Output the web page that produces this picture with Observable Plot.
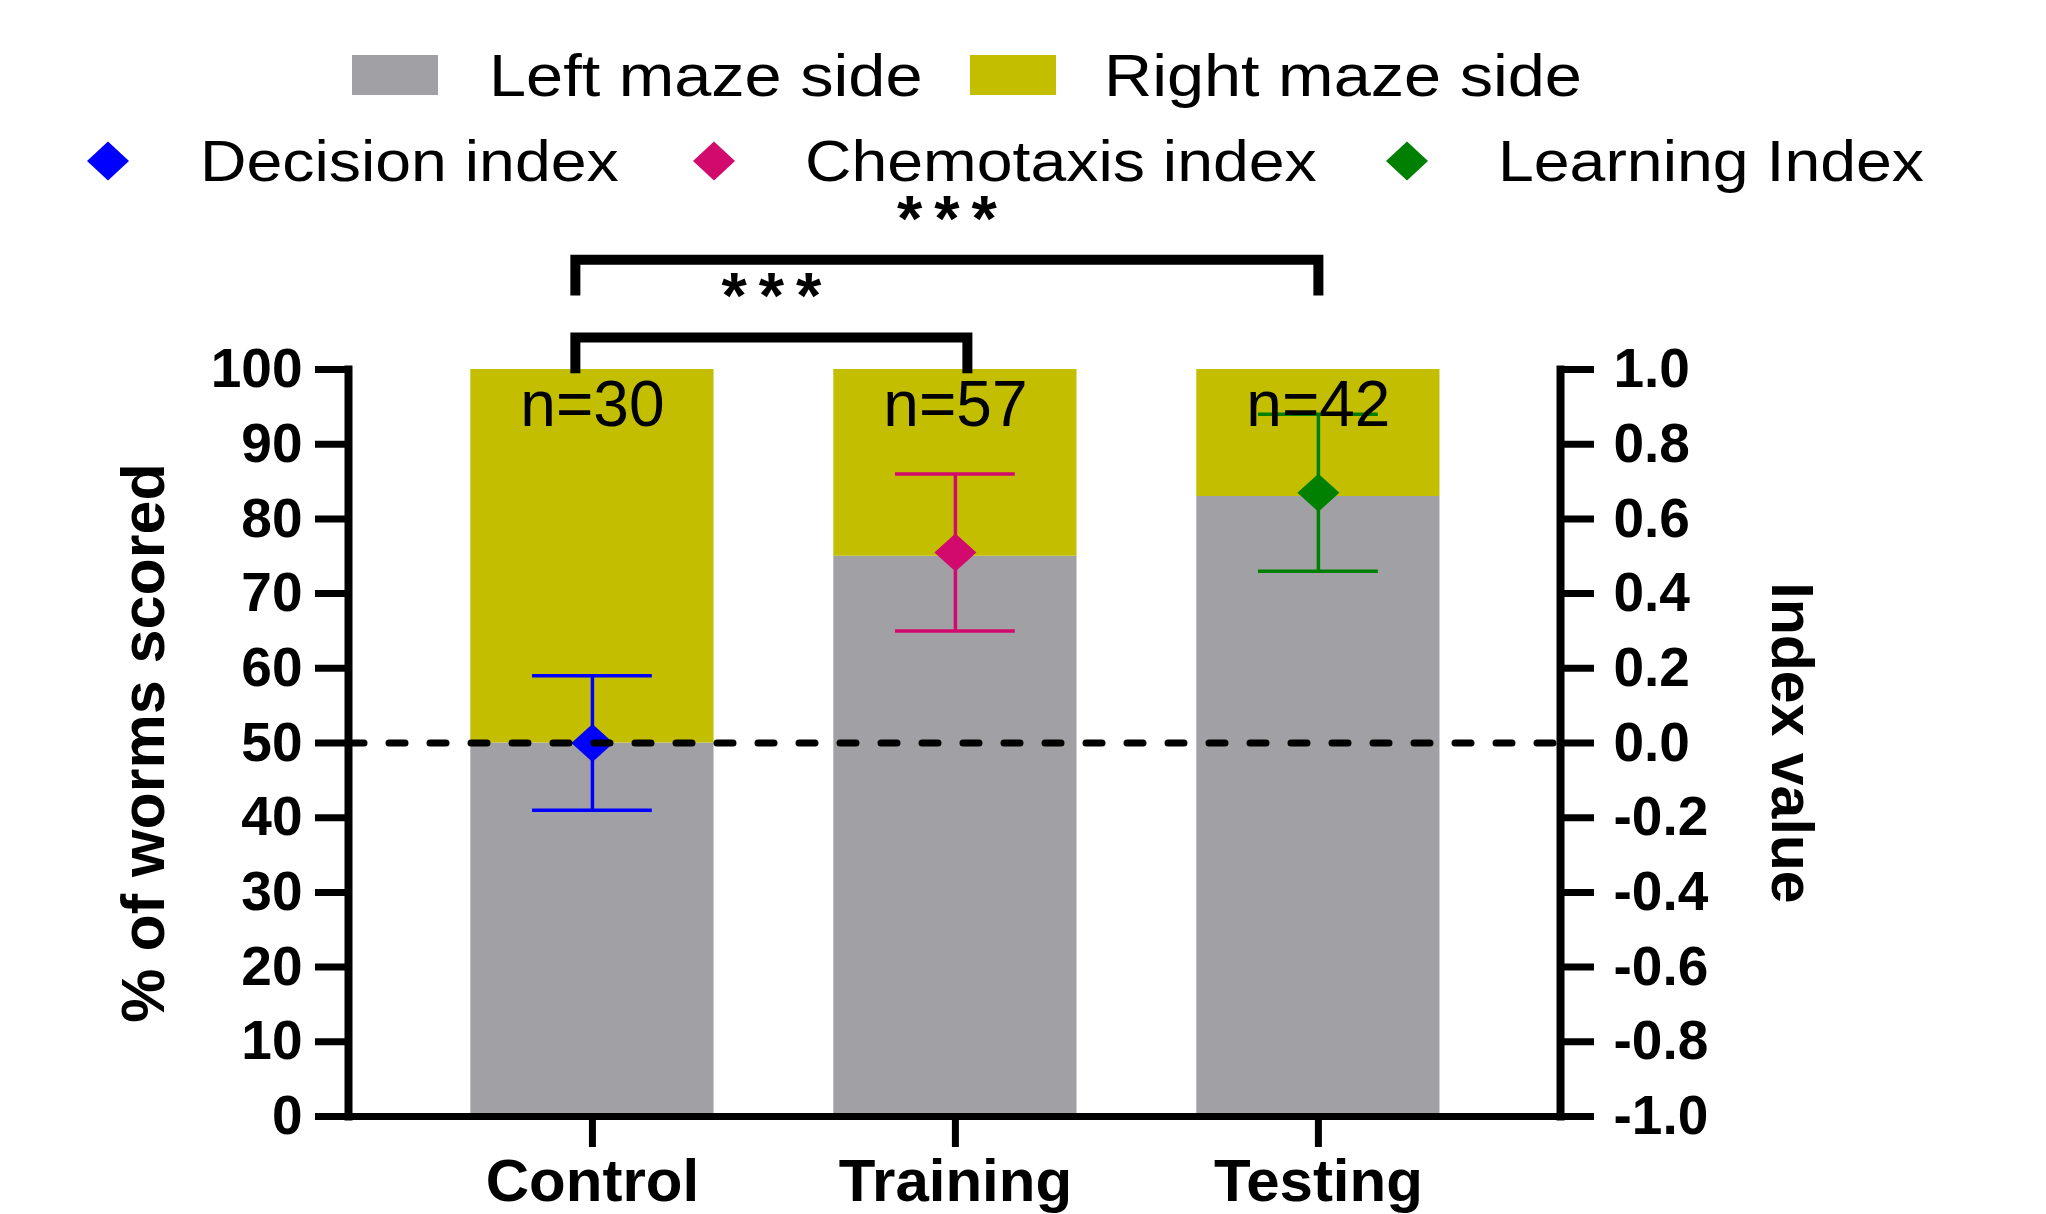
<!DOCTYPE html>
<html>
<head>
<meta charset="utf-8">
<script src="https://cdn.jsdelivr.net/npm/d3@7"></script>
<script src="https://cdn.jsdelivr.net/npm/@observablehq/plot@0.6"></script>
<style>
  html, body { margin: 0; padding: 0; background: #fff; overflow: hidden; }
  #chart { position: relative; width: 2046px; height: 1214px; }
  #chart svg { display: block; }
  #legend { position: absolute; left: 0; top: 0; overflow: visible; pointer-events: none; }
</style>
</head>
<body>
<div id="chart"></div>
<script>
// ---------------- data ----------------
const groups = ["Control", "Training", "Testing"];
const sideNames = ["Left maze side", "Right maze side"];
const leftSide = [50, 75, 83];          // % of worms, left maze side
const rightSide = [50, 25, 17];         // % of worms, right maze side
const indexNames = ["Decision index", "Chemotaxis index", "Learning Index"];
const indexValues = [0.0, 0.51, 0.67];  // index value (right axis)
const indexErrors = [0.18, 0.21, 0.21]; // error bar half-length
const nCounts = [30, 57, 42];
const comparisons = [
  {from: "Control", to: "Training", label: "***"},
  {from: "Control", to: "Testing", label: "***"}
];
const leftTicks = [0, 10, 20, 30, 40, 50, 60, 70, 80, 90, 100];
const rightTickLabels = ["-1.0", "-0.8", "-0.6", "-0.4", "-0.2", "0.0", "0.2", "0.4", "0.6", "0.8", "1.0"];

// ---------------- styles ----------------
const sideColors = ["#a1a0a5", "#c3bf00"];
const indexColors = ["#0000ff", "#d20a6e", "#008000"];
const font = "'Liberation Sans', Arial, Helvetica, sans-serif";
const W = 2046, H = 1214;

// ---------------- derived tables ----------------
const barData = groups.flatMap((g, i) => [
  {i, side: sideNames[0], y1: 0, y2: leftSide[i]},
  {i, side: sideNames[1], y1: leftSide[i], y2: leftSide[i] + rightSide[i]}
]);
const idxData = groups.map((g, i) => ({i, name: indexNames[i], v: indexValues[i], e: indexErrors[i]}));
const nData = groups.map((g, i) => ({i, n: nCounts[i], top: leftSide[i] + rightSide[i]}));
const toLeft = v => (v + 1) * 50; // index value -> left-axis units
const halfBar = 0.335, halfCap = 0.165;

// significance brackets
const legNudge = [[-0.047, 0.033], [-0.047, 0]];
const bracketInfo = comparisons.map((c, k) => {
  const level = 104.3 + k * 10.4;
  const xa = groups.indexOf(c.from) + legNudge[k][0];
  const xb = groups.indexOf(c.to) + legNudge[k][1];
  return {k, level, xa, xb, label: c.label};
});
const bracketPts = bracketInfo.flatMap(b => [
  {k: b.k, x: b.xa, y: b.level - 4.8},
  {k: b.k, x: b.xa, y: b.level},
  {k: b.k, x: b.xb, y: b.level},
  {k: b.k, x: b.xb, y: b.level - 4.8}
]);

// diamond symbol
const diamond = {
  draw(ctx, size) {
    const r = Math.sqrt(size / Math.PI);
    ctx.moveTo(0, -0.95 * r);
    ctx.lineTo(1.05 * r, 0);
    ctx.lineTo(0, 0.95 * r);
    ctx.lineTo(-1.05 * r, 0);
    ctx.closePath();
  }
};

const plot = Plot.plot({
  width: W,
  height: H,
  marginTop: 369,
  marginBottom: 98,
  marginLeft: 348,
  marginRight: 486,
  x: {domain: [-0.672, 2.667]},
  y: {domain: [0, 100]},
  color: {domain: [...sideNames, ...indexNames], range: [...sideColors, ...indexColors]},
  style: {fontFamily: font, color: "black", background: "white", overflow: "visible"},
  marks: [
    Plot.rect(barData, {x1: d => d.i - halfBar, x2: d => d.i + halfBar, y1: "y1", y2: "y2", fill: "side"}),
    Plot.ruleX(idxData, {x: "i", y1: d => toLeft(d.v - d.e), y2: d => toLeft(d.v + d.e), stroke: "name", strokeWidth: 3.5}),
    Plot.ruleY(idxData, {y: d => toLeft(d.v + d.e), x1: d => d.i - halfCap, x2: d => d.i + halfCap, stroke: "name", strokeWidth: 3.5}),
    Plot.ruleY(idxData, {y: d => toLeft(d.v - d.e), x1: d => d.i - halfCap, x2: d => d.i + halfCap, stroke: "name", strokeWidth: 3.5}),
    Plot.dot(idxData, {x: "i", y: d => toLeft(d.v), symbol: diamond, r: 20, fill: "name"}),
    Plot.ruleY([50], {stroke: "black", strokeWidth: 7, strokeDasharray: "16,25", strokeLinecap: "round"}),
    Plot.frame({anchor: "left", stroke: "black", strokeWidth: 8}),
    Plot.frame({anchor: "right", stroke: "black", strokeWidth: 8}),
    Plot.frame({anchor: "bottom", stroke: "black", strokeWidth: 7}),
    Plot.axisY({ticks: leftTicks, tickSize: 33, tickPadding: 13, strokeWidth: 7, fontSize: 55, fontWeight: "bold", label: null}),
    Plot.axisY({anchor: "right", ticks: leftTicks, tickFormat: d => rightTickLabels[leftTicks.indexOf(d)],
      tickSize: 33, tickPadding: 20, strokeWidth: 7, fontSize: 55, fontWeight: "bold", label: null}),
    Plot.axisX({ticks: groups.map((g, i) => i), tickFormat: i => groups[i], tickSize: 31, tickPadding: 11,
      strokeWidth: 7, fontSize: 60, fontWeight: "bold", label: null}),
    Plot.text(nData, {x: "i", y: "top", text: d => "n=" + d.n, lineAnchor: "top", dy: 11, fontSize: 64, fill: "black"}),
    Plot.line(bracketPts, {x: "x", y: "y", z: "k", stroke: "black", strokeWidth: 10,
      strokeLinejoin: "miter", strokeLinecap: "butt", strokeMiterlimit: 4}),
    Plot.text(bracketInfo, {x: d => (d.xa + d.xb) / 2, y: "level", text: "label", lineAnchor: "bottom",
      dx: 6, dy: -19, fontSize: 65, fontWeight: "bold", fill: "black"}),
    Plot.text(["% of worms scored"], {frameAnchor: "left", textAnchor: "middle", dx: -204, rotate: -90,
      fontSize: 61, fontWeight: "bold", fill: "black"}),
    Plot.text(["Index value"], {frameAnchor: "right", textAnchor: "middle", dx: 230, rotate: 90,
      fontSize: 59, fontWeight: "bold", fill: "black"})
  ]
});
// spread the significance stars like the original
d3.select(plot).selectAll("text").filter(function () { return this.textContent === "***"; })
  .attr("letter-spacing", 12);
document.getElementById("chart").append(plot);

// ---------------- legend (over the top of the chart) ----------------
const legend = d3.create("svg")
  .attr("id", "legend")
  .attr("width", W).attr("height", 200)
  .attr("font-family", font);
const row1 = [{sw: 352, tx: 489}, {sw: 970, tx: 1104}];
sideNames.forEach((name, i) => {
  legend.append("rect").attr("x", row1[i].sw).attr("y", 55).attr("width", 86).attr("height", 40)
    .attr("fill", sideColors[i]);
  legend.append("text").attr("transform", `translate(${row1[i].tx},96) scale(1.13,1)`)
    .attr("font-size", 59).attr("fill", "black").text(name);
});
const row2 = [{cx: 108, tx: 200}, {cx: 714, tx: 805}, {cx: 1407, tx: 1498}];
indexNames.forEach((name, i) => {
  const cx = row2[i].cx, cy = 161;
  legend.append("path")
    .attr("d", `M${cx},${cy - 19.5}L${cx + 21},${cy}L${cx},${cy + 19.5}L${cx - 21},${cy}Z`)
    .attr("fill", indexColors[i]);
  legend.append("text").attr("transform", `translate(${row2[i].tx},181) scale(1.13,1)`)
    .attr("font-size", 57).attr("fill", "black").text(name);
});
document.getElementById("chart").append(legend.node());
</script>
</body>
</html>
